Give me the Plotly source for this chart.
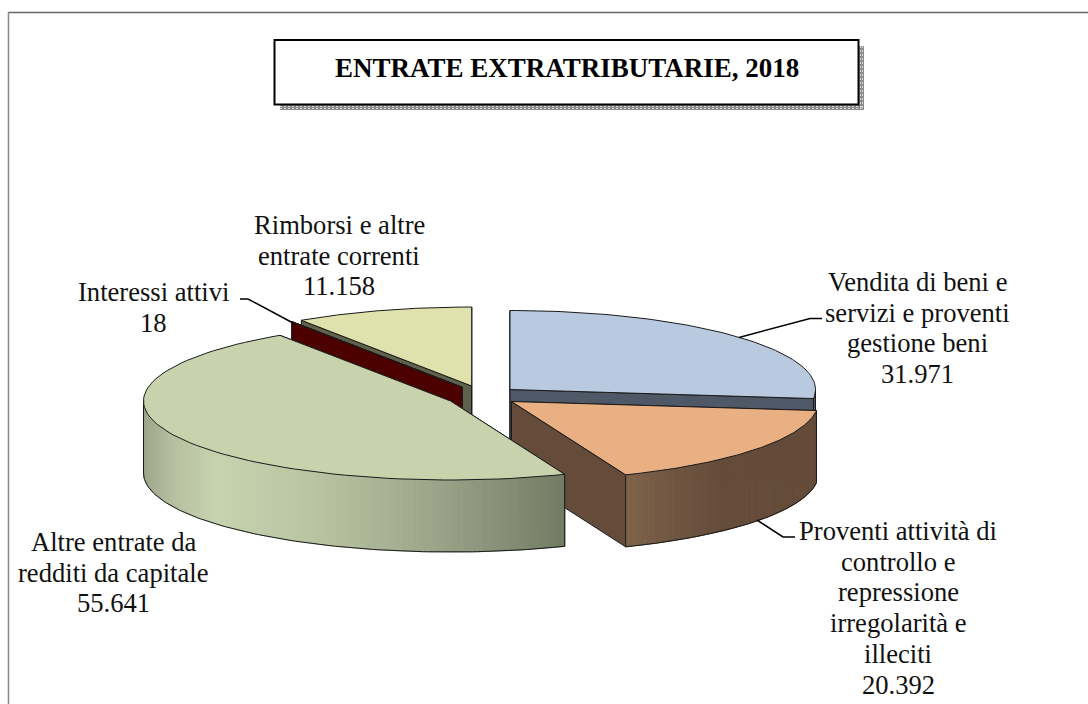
import math
import plotly.graph_objects as go

# ---- data ----
categories = [
    "Vendita di beni e servizi e proventi gestione beni",
    "Proventi attività di controllo e repressione irregolarità e illeciti",
    "Altre entrate da redditi da capitale",
    "Interessi attivi",
    "Rimborsi e altre entrate correnti",
]
values = [31971, 20392, 55641, 18, 11158]
label_lines = [
    ["Vendita di beni e", "servizi e proventi", "gestione beni"],
    ["Proventi attività di", "controllo e", "repressione", "irregolarità e", "illeciti"],
    ["Altre entrate da", "redditi da capitale"],
    ["Interessi attivi"],
    ["Rimborsi e altre", "entrate correnti"],
]
title_text = "ENTRATE EXTRATRIBUTARIE, 2018"

# ---- pie projection / styling ----
RXS = [305.5, 307.0, 307.0, 307.0, 307.0]
RY, DEPTH = 79.0, 72.0
apex = [(510.0, 389.5), (511.5, 401.5), (450.5, 401.0), (462.3, 387.3), (471.7, 386.0)]
top_col = ["#b8c9e0", "#e9b084", "#c8d3ae", "#4d0000", "#e0e2ad"]
wall_col = ["#4f5866", "#654c3a", "#727b63", "#4d0000", "#5f614a"]
front_stops = {
    0: [(0, "#4f5866"), (1, "#4f5866")],
    1: [(0, "#806349"), (0.08, "#7a5f48"), (0.25, "#705742"), (0.5, "#654c3a"), (1, "#654c3a")],
    2: [(0, "#9ea58a"), (0.06, "#b4bd9e"), (0.17, "#c7d3af"), (0.38, "#bbc6a4"),
        (0.6, "#a7af92"), (0.82, "#8c937b"), (1, "#727b63")],
}
LINE = "#1a1a1a"
FONT = "Liberation Serif"
FS = 26.6
label_x = [917.5, 898, 113.5, 153, 339]
label_y = [282, 531, 542, 292, 225]
LH = 30.7
leaders = [
    ([739, 810, 822], [337.5, 318.5, 318.5]),
    ([757, 783, 795], [520, 537, 537]),
    None,
    ([293, 248, 240], [323, 299, 299]),
    None,
]

fig = go.Figure()


def poly(xs, ys, fill, line=LINE, width=1.0):
    fig.add_trace(go.Scatter(x=xs, y=ys, mode="lines", fill="toself", fillcolor=fill,
                             line=dict(color=line, width=width), hoverinfo="skip", showlegend=False))


def hex2rgb(h):
    return tuple(int(h[i:i + 2], 16) for i in (1, 3, 5))


def grad(stops, f):
    for (a, ca), (b, cb) in zip(stops, stops[1:]):
        if f <= b:
            u = 0 if b == a else (f - a) / (b - a)
            p, q = hex2rgb(ca), hex2rgb(cb)
            return "rgb(%d,%d,%d)" % tuple(round(p[i] + (q[i] - p[i]) * u) for i in range(3))
    return stops[-1][1]


def pt(i, t):
    return apex[i][0] + RXS[i] * math.sin(t), apex[i][1] - RY * math.cos(t)


def arc(i, a, b, n=80):
    return [pt(i, a + (b - a) * k / n) for k in range(n + 1)]


total = sum(values)
spans = []
acc = 0.0
for v in values:
    spans.append((acc / total * 2 * math.pi, (acc + v) / total * 2 * math.pi))
    acc += v


def draw_slice(i):
    a, b = spans[i]
    cx, cy = apex[i]
    # radial walls
    for t in (a, b):
        x, y = pt(i, t)
        poly([cx, x, x, cx, cx], [cy, y, y + DEPTH, cy + DEPTH, cy], wall_col[i])
    # outer wall (only the part that faces the viewer)
    lo, hi = max(a, math.pi / 2), min(b, 3 * math.pi / 2)
    if hi > lo:
        pts = arc(i, lo, hi, 120)
        xa, xb = min(p[0] for p in pts), max(p[0] for p in pts)
        stops = front_stops[i]
        for p, q in zip(pts, pts[1:]):
            f = (0.5 * (p[0] + q[0]) - xa) / (xb - xa)
            c = grad(stops, f)
            poly([p[0], q[0], q[0], p[0], p[0]],
                 [p[1], q[1], q[1] + DEPTH, p[1] + DEPTH, p[1]], c, line=c, width=1)
        # outline of the outer wall
        xs = [p[0] for p in pts]
        ys = [p[1] + DEPTH for p in pts]
        fig.add_trace(go.Scatter(x=xs, y=ys, mode="lines", line=dict(color=LINE, width=1),
                                 hoverinfo="skip", showlegend=False))
        for p in (pts[0], pts[-1]):
            fig.add_trace(go.Scatter(x=[p[0], p[0]], y=[p[1], p[1] + DEPTH], mode="lines",
                                     line=dict(color=LINE, width=1), hoverinfo="skip", showlegend=False))
    # top
    pts = arc(i, a, b)
    poly([cx] + [p[0] for p in pts] + [cx], [cy] + [p[1] for p in pts] + [cy], top_col[i])


# painter's order: back pieces first
for i in (4, 3, 0, 1, 2):
    draw_slice(i)

# leader lines
for ld in leaders:
    if ld:
        fig.add_trace(go.Scatter(x=ld[0], y=ld[1], mode="lines", line=dict(color="#000", width=1.5),
                                 hoverinfo="skip", showlegend=False))

# labels
ann = []
for i, lines in enumerate(label_lines):
    rows = lines + [f"{values[i]:,}".replace(",", ".")]
    for k, row in enumerate(rows):
        ann.append(dict(x=label_x[i], y=label_y[i] + k * LH, text=row, showarrow=False, xanchor="center",
                        yanchor="middle", font=dict(family=FONT, size=FS, color="#111")))
ann.append(dict(x=567, y=68, text="<b>%s</b>" % title_text, showarrow=False, xanchor="center",
                yanchor="middle", font=dict(family=FONT, size=27, color="#000")))

shapes = [
    dict(type="line", x0=8, x1=1088, y0=12.5, y1=12.5, line=dict(color="#666", width=1.5)),
    dict(type="line", x0=8.5, x1=8.5, y0=12, y1=704, line=dict(color="#888", width=1.5)),
    # stippled drop shadow of the title box
    dict(type="rect", x0=280, x1=864, y0=46, y1=110, fillcolor="#8c8c8c", line=dict(width=0)),
    dict(type="line", x0=280, x1=864, y0=106.5, y1=106.5, line=dict(color="#d8d8d8", width=1, dash="2px,2px")),
    dict(type="line", x0=280, x1=864, y0=108.5, y1=108.5, line=dict(color="#d8d8d8", width=1, dash="2px,2px")),
    dict(type="line", x0=860.5, x1=860.5, y0=46, y1=110, line=dict(color="#d8d8d8", width=1, dash="2px,2px")),
    dict(type="line", x0=862.5, x1=862.5, y0=46, y1=110, line=dict(color="#d8d8d8", width=1, dash="2px,2px")),
    dict(type="rect", x0=274.5, x1=858.5, y0=40, y1=104.5, fillcolor="#fff",
         line=dict(color="#000", width=2)),
]

fig.update_layout(
    width=1088, height=704, autosize=False, margin=dict(l=0, r=0, t=0, b=0),
    paper_bgcolor="#fff", plot_bgcolor="#fff", showlegend=False,
    xaxis=dict(range=[0, 1088], visible=False, fixedrange=True),
    yaxis=dict(range=[704, 0], visible=False, fixedrange=True),
    annotations=ann, shapes=shapes,
)
fig.write_html("out.html", config=dict(displayModeBar=False), default_width="1088px", default_height="704px",
               post_script="document.body.style.margin='0';document.body.style.overflow='hidden';")
